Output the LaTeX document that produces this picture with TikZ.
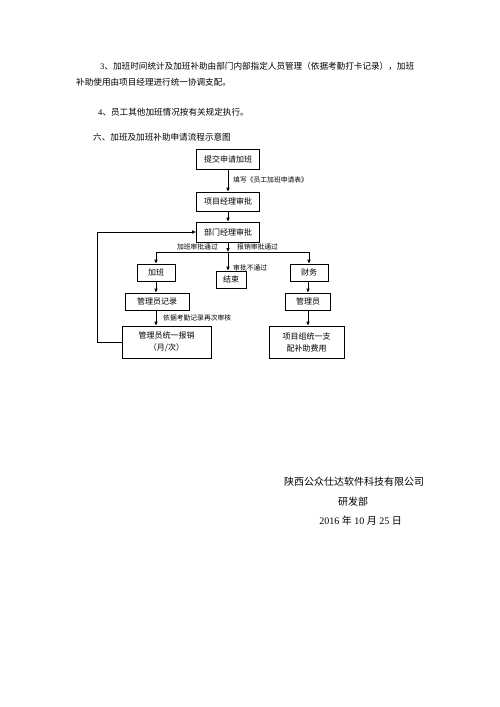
\documentclass[tikz,border=0pt]{standalone}
\usepackage{fontspec}
\setmainfont{Liberation Serif}
\newfontfamily\cjk{Noto Sans CJK SC}
\usetikzlibrary{arrows.meta,positioning}

\begin{document}
\begin{tikzpicture}[x=1pt,y=-1pt,
  box/.style={draw,line width=0.6pt,inner sep=0pt,align=center,font=\cjk\fontsize{8}{12}\selectfont},
  lbl/.style={inner sep=1pt,font=\cjk\fontsize{6.8}{8}\selectfont},
  txt/.style={anchor=west,inner sep=0pt,font=\cjk\fontsize{8.6}{10}\selectfont},
  arr/.style={-{Latex[length=4pt,width=3.5pt]},line width=0.6pt}]
  \useasboundingbox (0,0) rectangle (500,707);

  % ---------------- Text above ----------------
  \node[txt] (p3) at (100,66) {{\rmfamily 3}、加班时间统计及加班补助由部门内部指定人员管理（依据考勤打卡记录），加班};
  \node[txt] (p3b) at (76,82) {补助使用由项目经理进行统一协调支配。};
  \node[txt] (p4) at (98,112) {{\rmfamily 4}、员工其他加班情况按有关规定执行。};
  \node[txt] (h6) at (93,137) {六、加班及加班补助申请流程示意图};

  % ---------------- Flow chart ----------------
  \node[box,minimum width=63pt,minimum height=20pt] (tj) at (228,159) {提交申请加班};
  \node[box,minimum width=63pt,minimum height=19pt] (xm) at (228,201.5) {项目经理审批};
  \node[box,minimum width=63pt,minimum height=20pt] (bm) at (228,232) {部门经理审批};
  \coordinate (br) at (228,252);

  \node[box,minimum width=38pt,minimum height=17pt] (jb) at (156,272.5) {加班};
  \node[box,minimum width=30pt,minimum height=17pt] (js) at (231,279.5) {结束};
  \node[box,minimum width=38pt,minimum height=17pt] (cw) at (309,272.5) {财务};
  \node[box,minimum width=64pt,minimum height=17pt] (gj) at (157,301.5) {管理员记录};
  \node[box,minimum width=45pt,minimum height=17pt] (gl) at (308,301.5) {管理员};
  \node[box,minimum width=89pt,minimum height=32pt] (bx) at (166.5,342) {管理员统一报销\\（月/次）};
  \node[box,minimum width=75pt,minimum height=32pt] (zp) at (306.5,342) {项目组统一支\\配补助费用};

  % Labels
  \node[lbl,anchor=west] (l1) at (232,180) {填写《员工加班申请表》};
  \node[lbl,anchor=east] (l2) at (219,247) {加班审批通过};
  \node[lbl,anchor=west] (l3) at (236,247) {报销审批通过};
  \node[lbl,anchor=west] (l4) at (232,268) {审批不通过};
  \node[lbl,anchor=west] (l5) at (162,318) {依据考勤记录再次审核};

  % Edges
  \draw[arr] (tj) -- (xm);
  \draw[arr] (xm) -- (bm);
  \draw[arr] (bm) -- (br);
  \draw[arr] (br) -- (br |- js.north);
  \draw[arr] (br) -| (jb);
  \draw[arr] (br) -| (cw);
  \draw[arr] (jb.south) -- (jb.south |- gj.north);
  \draw[arr] (gj.south -| jb.south) -- (jb.south |- bx.north);
  \draw[arr] (cw.south -| gl.north) -- (gl.north);
  \draw[arr] (gl.south) -- (gl.south |- zp.north);
  \draw[arr] (bx.west) -- ++(-24,0) |- (bm.west);

  % ---------------- Signature ----------------
  \node[font=\cjk\fontsize{10}{12}\selectfont,inner sep=0pt] (co) at (354,482) {陕西公众仕达软件科技有限公司};
  \node[font=\cjk\fontsize{10}{12}\selectfont,inner sep=0pt] (dp) at (353,502) {研发部};
  \node[font=\fontsize{10}{12}\selectfont,inner sep=0pt] (dt) at (360.5,521) {2016 {\cjk 年} 10 {\cjk 月} 25 {\cjk 日}};
\end{tikzpicture}
\end{document}
